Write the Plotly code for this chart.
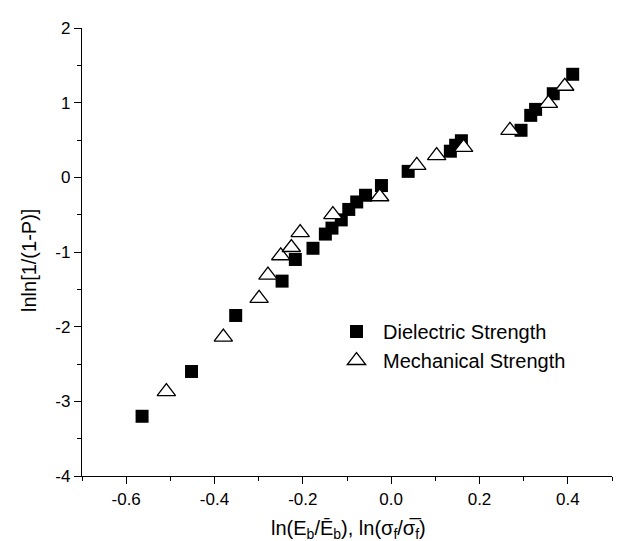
import plotly.graph_objects as go

# Dielectric strength (filled squares)
diel_x = [-0.564, -0.452, -0.352, -0.247, -0.217, -0.177, -0.149, -0.134, -0.113, -0.096,
          -0.078, -0.058, -0.022, 0.0385, 0.134, 0.146, 0.159, 0.294, 0.316, 0.327, 0.367, 0.411]
diel_y = [-3.20, -2.60, -1.85, -1.39, -1.10, -0.95, -0.76, -0.68, -0.57, -0.43,
          -0.33, -0.24, -0.11, 0.08, 0.35, 0.43, 0.49, 0.63, 0.83, 0.91, 1.12, 1.38]

# Mechanical strength (open triangles)
mech_x = [-0.509, -0.380, -0.299, -0.279, -0.250, -0.226, -0.206, -0.132, -0.026,
          0.058, 0.103, 0.164, 0.269, 0.356, 0.393]
mech_y = [-2.87, -2.14, -1.62, -1.31, -1.05, -0.94, -0.74, -0.50, -0.26,
          0.16, 0.29, 0.40, 0.63, 0.99, 1.22]

x_tickvals = [-0.6, -0.4, -0.2, 0.0, 0.2, 0.4]
x_ticktext = ["-0.6", "-0.4", "-0.2", "0.0", "0.2", "0.4"]
y_tickvals = [-4, -3, -2, -1, 0, 1, 2]
y_ticktext = ["-4", "-3", "-2", "-1", "0", "1", "2"]

FONT = "Liberation Sans, Arial, sans-serif"

fig = go.Figure()
fig.add_trace(go.Scatter(
    x=diel_x, y=diel_y, mode="markers", name="Dielectric Strength",
    marker=dict(symbol="square", size=13, color="black", line=dict(width=0)),
))
fig.add_trace(go.Scatter(
    x=mech_x, y=mech_y, mode="markers", name="Mechanical Strength",
    marker=dict(symbol="triangle-up", size=16, color="white",
                line=dict(width=1.3, color="black")),
))

axis_common = dict(
    showgrid=False, zeroline=False, showline=True, linecolor="black", linewidth=1.3,
    ticks="outside", ticklen=7, tickwidth=1.3, tickcolor="black",
    tickfont=dict(family=FONT, size=17, color="black"),
    tickmode="array",
)

fig.update_xaxes(range=[-0.7, 0.5], tickvals=x_tickvals, ticktext=x_ticktext,
                 minor=dict(ticks="outside", ticklen=4, tickwidth=1.3, tickcolor="black", dtick=0.1, tick0=0),
                 **axis_common)
fig.update_yaxes(range=[-4, 2], tickvals=y_tickvals, ticktext=y_ticktext,
                 minor=dict(ticks="outside", ticklen=4, tickwidth=1.3, tickcolor="black", dtick=0.5, tick0=0),
                 **axis_common)

fig.add_annotation(
    text="ln(E<sub>b</sub>/Ē<sub>b</sub>), ln(σ<sub>f</sub>/σ\u0305<sub>f</sub>)",
    xref="paper", yref="paper", x=(340 - 74) / 530, y=-(521 - 468) / 448,
    xanchor="center", yanchor="middle", showarrow=False,
    font=dict(family=FONT, size=20, color="black"),
)
fig.add_annotation(
    text="lnln[1/(1-P)]", textangle=-90,
    xref="paper", yref="paper", x=-(74 - 21) / 530, y=(468 - 253) / 448,
    xanchor="center", yanchor="middle", showarrow=False,
    font=dict(family=FONT, size=20, color="black"),
)

fig.update_layout(
    width=626, height=541,
    margin=dict(l=74, r=22, t=20, b=73),
    paper_bgcolor="white", plot_bgcolor="white",
    showlegend=True,
    legend=dict(x=(322 - 74) / 530, y=(468 - 304) / 448, xanchor="left", yanchor="top",
                bgcolor="rgba(0,0,0,0)", font=dict(family=FONT, size=20, color="black"),
                itemwidth=43, tracegroupgap=0),
    font=dict(family=FONT, color="black"),
)

fig.write_html("out.html")
